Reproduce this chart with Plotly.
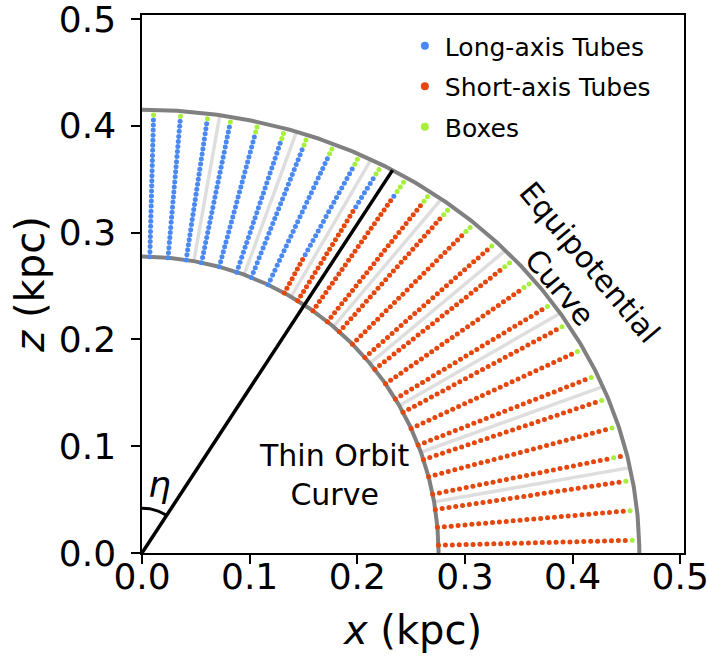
import numpy as np
import plotly.graph_objects as go

# ---- geometry (kpc) ----
inner_ax = [0.2755, 0.2775]   # thin orbit curve: x-intercept, z-intercept
outer_ax = [0.462, 0.415]     # equipotential curve: x-intercept, z-intercept
n_per_ray = 29                # starting points per ray

# ray angles eta (deg, measured from the z axis)
ray_eta_deg = [1.5, 5.0, 8.5, 11.5, 15.0, 18.5, 21.5, 25.0, 28.5,
               31.5, 35.0, 38.5, 41.5, 45.0, 48.5, 51.5, 55.0, 58.5,
               61.5, 65.0, 68.5, 71.5, 75.0, 78.5, 81.5, 85.0, 88.5]

# orbit classes along each ray, from the thin orbit curve outwards
# L = long-axis tube, S = short-axis tube, B = box
ray_classes = [
    [("L", 28), ("B", 1)],
    [("L", 28), ("B", 1)],
    [("L", 28), ("B", 1)],
    [("L", 28), ("B", 1)],
    [("L", 27), ("B", 2)],
    [("L", 27), ("B", 2)],
    [("L", 27), ("B", 2)],
    [("L", 27), ("B", 2)],
    [("S", 8), ("L", 19), ("B", 2)],
    [("S", 20), ("L", 7), ("B", 2)],
    [("S", 25), ("L", 1), ("B", 3)],
    [("S", 27), ("B", 2)],
    [("S", 27), ("B", 2)],
    [("S", 27), ("B", 2)],
    [("S", 28), ("B", 1)],
    [("S", 27), ("B", 2)],
    [("S", 27), ("B", 2)],
    [("S", 28), ("B", 1)],
    [("S", 28), ("B", 1)],
    [("S", 28), ("B", 1)],
    [("S", 28), ("B", 1)],
    [("S", 28), ("B", 1)],
    [("S", 28), ("B", 1)],
    [("S", 27), ("B", 1), ("S", 1)],
    [("S", 28), ("B", 1)],
    [("S", 28), ("B", 1)],
    [("S", 28), ("B", 1)],
]

grey_eta_deg = [10, 20, 30, 40, 50, 60, 70, 80]
eta_line_deg = 33.0
eta_arc_r = 0.042

tick_vals = [0.0, 0.1, 0.2, 0.3, 0.4, 0.5]
tick_text = ["0.0", "0.1", "0.2", "0.3", "0.4", "0.5"]

class_names = {"L": "Long-axis Tubes", "S": "Short-axis Tubes", "B": "Boxes"}
class_colors = {"L": "#4a88f2", "S": "#e4460c", "B": "#a6ef3a"}

FONT = "DejaVu Sans"


def ell_r(eta, ax):
    a, b = ax
    return 1.0 / np.sqrt((np.sin(eta) / a) ** 2 + (np.cos(eta) / b) ** 2)


fig = go.Figure()

# grey separator rays
gx, gz = [], []
for e in grey_eta_deg:
    t = np.radians(e)
    r0, r1 = ell_r(t, inner_ax), ell_r(t, outer_ax)
    gx += [r0 * np.sin(t), r1 * np.sin(t), None]
    gz += [r0 * np.cos(t), r1 * np.cos(t), None]
fig.add_trace(go.Scatter(x=gx, y=gz, mode="lines",
                         line=dict(color="#dedede", width=3.5),
                         showlegend=False, hoverinfo="skip"))

# curves
eta_c = np.radians(np.linspace(0, 90, 300))
for ax in (inner_ax, outer_ax):
    r = ell_r(eta_c, ax)
    fig.add_trace(go.Scatter(x=r * np.sin(eta_c), y=r * np.cos(eta_c), mode="lines",
                             line=dict(color="#808080", width=4),
                             showlegend=False, hoverinfo="skip"))

# points
pts = {"L": ([], []), "S": ([], []), "B": ([], [])}
for e, segs in zip(ray_eta_deg, ray_classes):
    t = np.radians(e)
    r0, r1 = ell_r(t, inner_ax), ell_r(t, outer_ax)
    labels = []
    for c, n in segs:
        labels += [c] * n
    for k, c in enumerate(labels):
        r = r0 + (r1 - r0) * k / n_per_ray
        pts[c][0].append(r * np.sin(t))
        pts[c][1].append(r * np.cos(t))

for c in ("L", "S", "B"):
    fig.add_trace(go.Scatter(x=pts[c][0], y=pts[c][1], mode="markers",
                             marker=dict(color=class_colors[c], size=5, line=dict(width=0)),
                             showlegend=False, name=class_names[c]))

# eta line and arc
t = np.radians(eta_line_deg)
r1 = ell_r(t, outer_ax)
fig.add_trace(go.Scatter(x=[0, r1 * np.sin(t)], y=[0, r1 * np.cos(t)], mode="lines",
                         line=dict(color="black", width=3.5), showlegend=False))
ea = np.radians(np.linspace(0, eta_line_deg, 50))
fig.add_trace(go.Scatter(x=eta_arc_r * np.sin(ea), y=eta_arc_r * np.cos(ea), mode="lines",
                         line=dict(color="black", width=3), showlegend=False))

# legend entries
for i, c in enumerate(("L", "S", "B")):
    fig.add_trace(go.Scatter(x=[None], y=[None], mode="markers",
                             marker=dict(color=class_colors[c], size=8),
                             name=class_names[c], legendgroup=c, showlegend=True))

fig.add_annotation(x=0.016, y=0.064, text="<i>η</i>", showarrow=False,
                   font=dict(family=FONT, size=36, color="black"))
fig.add_annotation(x=0.179, y=0.073, text="Thin Orbit<br>Curve", showarrow=False,
                   font=dict(family=FONT, size=30, color="black"), align="center")
fig.add_annotation(x=0.402, y=0.260, text="Equipotential<br>Curve", showarrow=False,
                   textangle=50, font=dict(family=FONT, size=30, color="black"), align="center")

axis_common = dict(showline=True, linecolor="black", linewidth=1.5, mirror=True,
                   ticks="outside", ticklen=9, tickwidth=1.5, tickcolor="black",
                   showgrid=False, zeroline=False, automargin=False,
                   ticklabeloverflow="allow",
                   tickfont=dict(family=FONT, size=36, color="black"),
                   tickvals=tick_vals, ticktext=tick_text)

fig.update_xaxes(range=[0, 0.5035], ticklabelstandoff=-18,
                 title=dict(text="<i>x</i> (kpc)", standoff=20,
                            font=dict(family=FONT, size=40, color="black")), **axis_common)
fig.update_yaxes(range=[0, 0.5037], ticklabelstandoff=8,
                 title=dict(text="<i>z</i> (kpc)", standoff=2,
                            font=dict(family=FONT, size=40, color="black")), **axis_common)

fig.update_layout(
    width=707, height=659,
    margin=dict(l=142, r=23, t=15, b=106),
    plot_bgcolor="white", paper_bgcolor="white",
    legend=dict(x=0.485, y=0.985, xanchor="left", yanchor="top",
                font=dict(family=FONT, size=25, color="black"),
                bgcolor="rgba(0,0,0,0)", tracegroupgap=5, itemwidth=30),
)

fig.write_html("out.html", config={"displayModeBar": False},
               post_script="document.body.style.margin='0px';document.body.style.overflow='hidden';")
